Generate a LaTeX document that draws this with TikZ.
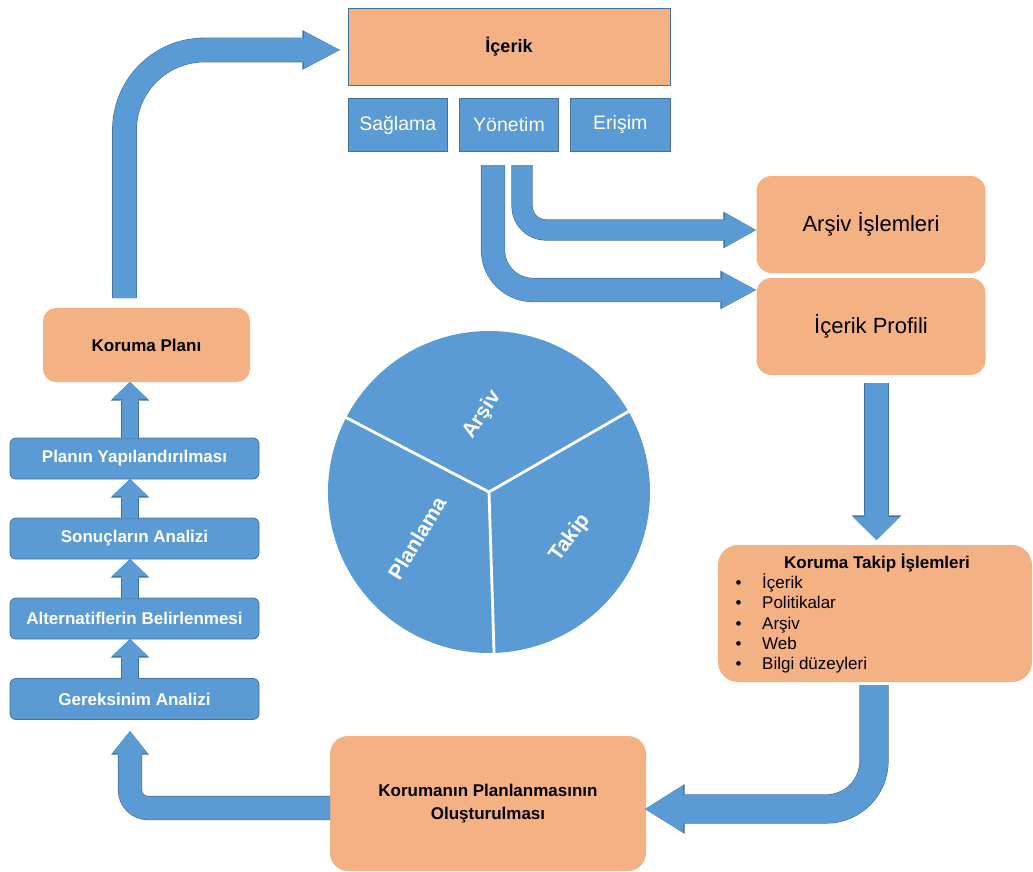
\documentclass[tikz,border=0pt]{standalone}
\usepackage{fontspec}
\setmainfont{Liberation Sans}
\usetikzlibrary{arrows.meta,calc}
\definecolor{obox}{HTML}{F4B183}
\definecolor{bfill}{HTML}{5B9BD5}
\definecolor{bedge}{HTML}{41719C}
% block arrow: #1 shaft width, #2 head length, #3 head width, #4 corner radius, #5 path
\newcommand\blockarrow[5]{%
  \pgfmathsetmacro\baW{#1+1.2}\pgfmathsetmacro\baL{#2+1.6}\pgfmathsetmacro\baH{#3+2.6}%
  \draw[bedge, line width=\baW pt, rounded corners=#4pt,
        -{Triangle[length=\baL pt, width=\baH pt, line width=0pt]}] #5;
  \draw[bfill, line width=#1pt, rounded corners=#4pt,
        -{Triangle[length=#2pt, width=#3pt, line width=0pt]}] #5;
}
\tikzset{
  obox/.style={fill=obox, rounded corners=#1, inner sep=0pt, outer sep=0pt, text=black, align=center},
  obox/.default=15pt,
  bbox/.style={fill=bfill, draw=bedge, line width=0.8pt, inner sep=0pt, outer sep=0pt, text=white},
  subbox/.style={bbox, minimum width=99.5pt, minimum height=53pt, font=\fontsize{19.5}{22}\selectfont},
  stackbox/.style={bbox, rounded corners=6pt, minimum width=249pt, minimum height=41pt,
    font=\fontsize{17}{20}\selectfont\bfseries},
  pielabel/.style={text=white, font=\fontsize{21}{24}\selectfont\bfseries, inner sep=0pt}
}
\begin{document}
\begin{tikzpicture}[x=1pt,y=-1pt]
\useasboundingbox (0,0) rectangle (1033,872);

% ---------- arrow end points ----------
\coordinate (a1s) at (124.5,298);  \coordinate (a1e) at (340,50);
\coordinate (a2s) at (493,165);    \coordinate (a2e) at (756,290);
\coordinate (a3s) at (522,165);    \coordinate (a3e) at (756,230);
\coordinate (a4s) at (876.5,383);  \coordinate (a4e) at (876.5,540);
\coordinate (a5s) at (874,685);    \coordinate (a5e) at (645,809);
\coordinate (a6s) at (330,808);    \coordinate (a6e) at (130,731);

% ---------- nodes ----------
\node[obox=0pt, draw=bedge, line width=0.8pt, minimum width=322pt, minimum height=77pt,
      font=\fontsize{18}{21}\selectfont\bfseries] (icerik) at (509,46.5) {İçerik};
\node[subbox] (saglama) at (397.75,125) {Sağlama};
\node[subbox] (yonetim) at (509,125) {Yönetim};
\node[subbox] (erisim) at (620.25,125) {Erişim};

\node[obox, minimum width=229pt, minimum height=97pt, font=\fontsize{22}{25}\selectfont]
  (arsivis) at (871,224.5) {Arşiv İşlemleri};
\node[obox, minimum width=229pt, minimum height=97pt, font=\fontsize{22}{25}\selectfont]
  (profil) at (871,326.5) {İçerik Profili};

\node[obox=20pt, minimum width=314pt, minimum height=137pt] (takip) at (875,613.5) {};
\node[font=\fontsize{17}{20}\selectfont\bfseries, inner sep=0pt] (takiptitle) at (877,563) {Koruma Takip İşlemleri};
\node[anchor=north west, align=left, inner sep=0pt, font=\fontsize{17}{20.3}\selectfont] (takiplist) at (735.5,573.5)
  {\makebox[26.5pt][l]{•}İçerik\\
   \makebox[26.5pt][l]{•}Politikalar\\
   \makebox[26.5pt][l]{•}Arşiv\\
   \makebox[26.5pt][l]{•}Web\\
   \makebox[26.5pt][l]{•}Bilgi düzeyleri};

\node[obox=18pt, minimum width=316pt, minimum height=135pt, font=\fontsize{17}{23}\selectfont\bfseries]
  (korumanin) at (488,803.5) {Korumanın Planlanmasının\\Oluşturulması};

\node[obox=13pt, minimum width=207pt, minimum height=74pt, font=\fontsize{17}{20}\selectfont\bfseries]
  (plan) at (146.5,345) {Koruma Planı};

\node[stackbox] (planin) at (134.5,458.5) {Planın Yapılandırılması};
\node[stackbox] (sonuc) at (134.5,538.5) {Sonuçların Analizi};
\node[stackbox] (alter) at (134.5,618.5) {Alternatiflerin Belirlenmesi};
\node[stackbox] (gerek) at (134.5,699) {Gereksinim Analizi};

% ---------- block arrows ----------
\blockarrow{23.5}{36}{37}{80}{(a1s) |- (a1e)}
\blockarrow{23}{34}{36}{40}{(a2s) |- (a2e)}
\blockarrow{20}{31}{34}{24}{(a3s) |- (a3e)}
\blockarrow{23}{23}{47}{0}{(a4s) -- (a4e)}
\blockarrow{28}{38}{47}{48}{(a5s) |- (a5e)}
\blockarrow{23}{22}{35}{18}{(a6s) -| (a6e)}

\blockarrow{16}{17}{36}{0}{([xshift=-4.5pt]gerek.north) -- ([xshift=-4.5pt]alter.south)}
\blockarrow{16}{17}{36}{0}{([xshift=-4.5pt]alter.north) -- ([xshift=-4.5pt]sonuc.south)}
\blockarrow{16}{17}{36}{0}{([xshift=-4.5pt]sonuc.north) -- ([xshift=-4.5pt]planin.south)}
\blockarrow{16}{17}{36}{0}{([xshift=-4.5pt]planin.north) -- ([xshift=-4.5pt]planin.north |- plan.south)}

% ---------- pie ----------
\begin{scope}[shift={(489,492)}, yscale=-1]
  \fill[bfill] (0,0) circle (161);
  \draw[white, line width=2.8pt] (0,0) -- (30:163);
  \draw[white, line width=2.8pt] (0,0) -- (152.5:163);
  \draw[white, line width=2.8pt] (0,0) -- (-88.2:163);
\end{scope}
\node[pielabel, rotate=57] (lblarsiv) at (482,415) {Arşiv};
\node[pielabel, rotate=59] (lblplan) at (417,538) {Planlama};
\node[pielabel, rotate=54] (lbltakip) at (570,538) {Takip};
\end{tikzpicture}
\end{document}
